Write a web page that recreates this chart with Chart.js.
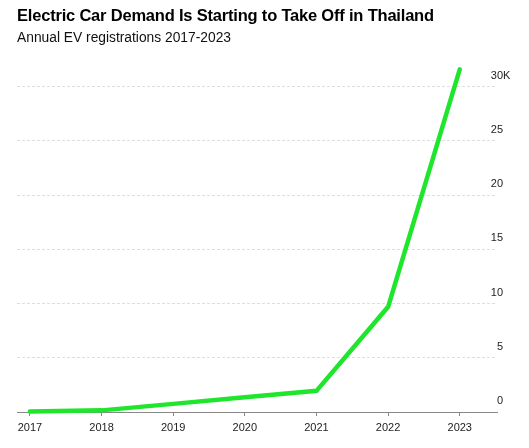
<!DOCTYPE html>
<html><head><meta charset="utf-8">
<script src="https://cdn.jsdelivr.net/npm/chart.js@4"></script>
<style>
html,body{margin:0;padding:0;background:#fff;}
#wrap{position:relative;width:529px;height:448px;}
#t{position:absolute;left:17px;top:6px;font:bold 16.5px "Liberation Sans",Arial,sans-serif;color:#000;white-space:nowrap;letter-spacing:-0.2px}
#s{position:absolute;left:17px;top:30px;font:13.8px "Liberation Sans",Arial,sans-serif;color:#111;white-space:nowrap}
canvas{position:absolute;left:0;top:0}
</style></head><body>
<div id="wrap">
<canvas id="c" width="529" height="448"></canvas>
<div id="t">Electric Car Demand Is Starting to Take Off in Thailand</div>
<div id="s">Annual EV registrations 2017-2023</div>
</div>
<script>
const years = [2017, 2018, 2019, 2020, 2021, 2022, 2023];
const registrationsK = [0.05, 0.15, 0.75, 1.35, 1.95, 9.7, 31.6];
const yTicks = [0, 5, 10, 15, 20, 25, 30];
const FONT = '"Liberation Sans", Arial, sans-serif';

const kSuffix = {
  id: 'kSuffix',
  afterDraw(chart) {
    const y = chart.scales.y;
    const ctx = chart.ctx;
    ctx.save();
    ctx.font = '11px ' + FONT;
    ctx.fillStyle = '#222';
    ctx.textAlign = 'left';
    ctx.textBaseline = 'middle';
    ctx.fillText('K', y.left + 6, y.getPixelForValue(yTicks[yTicks.length - 1]) - 11);
    ctx.restore();
  }
};

new Chart(document.getElementById('c'), {
  type: 'line',
  data: {
    datasets: [{
      data: years.map((yr, i) => ({x: yr, y: registrationsK[i]})),
      borderColor: '#1fe52c',
      borderWidth: 4.5,
      borderCapStyle: 'round',
      borderJoinStyle: 'miter',
      pointRadius: 0,
      tension: 0,
      fill: false,
      clip: false
    }]
  },
  options: {
    responsive: false,
    animation: false,
    layout: {padding: {top: 65, right: 0, left: 17, bottom: 0}},
    plugins: {legend: {display: false}, tooltip: {enabled: false}},
    scales: {
      x: {
        type: 'linear',
        min: 2016.82,
        max: 2023.52,
        afterBuildTicks: s => { s.ticks = years.map(v => ({value: v})); },
        afterFit: s => { s.height = 36; },
        border: {display: true, color: '#888', width: 1},
        grid: {drawOnChartArea: false, drawTicks: true, tickLength: 4, color: '#888'},
        ticks: {
          padding: 5, maxRotation: 0, autoSkip: false,
          font: {family: FONT, size: 11}, color: '#222',
          callback: v => String(v)
        }
      },
      y: {
        position: 'right',
        min: 0,
        max: 32,
        afterBuildTicks: s => { s.ticks = yTicks.map(v => ({value: v})); },
        afterFit: s => { s.width = 32; },
        border: {display: false, dash: [3, 2]},
        grid: {
          drawTicks: false,
          color: ctx => ctx.tick && ctx.tick.value === 0 ? 'rgba(0,0,0,0)' : '#dedede',
          lineWidth: 1
        },
        ticks: {
          mirror: true,
          crossAlign: 'near',
          padding: 6,
          labelOffset: -11,
          font: {family: FONT, size: 11}, color: '#222',
          callback: v => String(v)
        }
      }
    }
  },
  plugins: [kSuffix]
});
</script>
</body></html>
